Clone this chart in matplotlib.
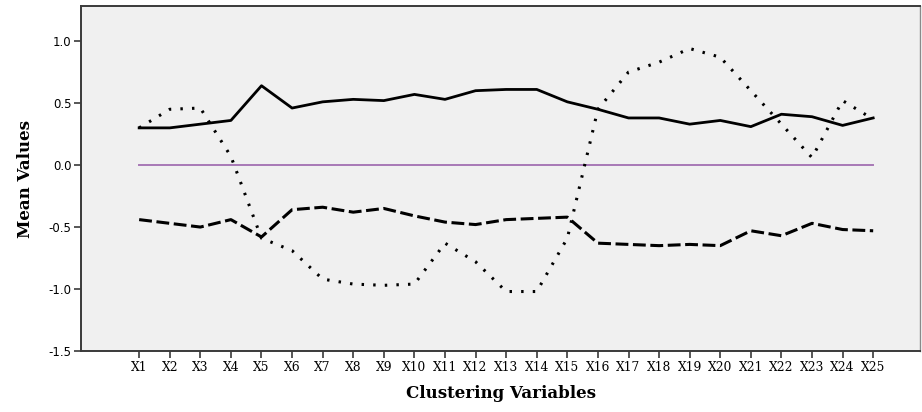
import numpy as np
import matplotlib.pyplot as plt

# cluster means for the 25 clustering variables
variables = ["X%d" % i for i in range(1, 26)]

cluster_solid = [0.30, 0.30, 0.33, 0.36, 0.64, 0.46, 0.51, 0.53, 0.52, 0.57,
                 0.53, 0.60, 0.61, 0.61, 0.51, 0.45, 0.38, 0.38, 0.33, 0.36,
                 0.31, 0.41, 0.39, 0.32, 0.38]
cluster_dashed = [-0.44, -0.47, -0.50, -0.44, -0.58, -0.36, -0.34, -0.38, -0.35, -0.41,
                  -0.46, -0.48, -0.44, -0.43, -0.42, -0.63, -0.64, -0.65, -0.64, -0.65,
                  -0.53, -0.57, -0.47, -0.52, -0.53]
cluster_dotted = [0.30, 0.45, 0.46, 0.07, -0.59, -0.69, -0.92, -0.96, -0.97, -0.96,
                  -0.63, -0.78, -1.02, -1.02, -0.59, 0.45, 0.75, 0.83, 0.94, 0.87,
                  0.60, 0.33, 0.06, 0.52, 0.37]

ytick_vals = [-1.5, -1.0, -0.5, 0.0, 0.5, 1.0]

fig = plt.figure(figsize=(9.22, 4.12), dpi=100)
ax = fig.add_axes([0.0879, 0.148, 0.9099, 0.8374])
ax.set_facecolor("#f0f0f0")

x = np.arange(len(variables))
x_lo, x_hi = -1.9, 25.53
ax.axhline(0.0, xmin=(x[0] - x_lo) / (x_hi - x_lo), xmax=(x[-1] - x_lo) / (x_hi - x_lo),
           color="#a878b6", lw=1.4, zorder=1)

ax.plot(x, cluster_solid, color="black", lw=2.0, ls="-", zorder=3)
ax.plot(x, cluster_dashed, color="black", lw=2.2, ls=(0, (4.2, 1.5)), zorder=3)
ax.plot(x, cluster_dotted, color="black", lw=2.2, ls=(0, (0.8, 3.0)), zorder=3)

ax.set_xlim(x_lo, x_hi)
ax.set_ylim(-1.5, 1.283)

ax.set_xticks(x)
ax.set_xticklabels(variables, fontfamily="DejaVu Serif", fontsize=8.8)
ax.set_yticks(ytick_vals)
ax.set_yticklabels(["%.1f" % v for v in ytick_vals], fontfamily="DejaVu Sans", fontsize=8.5)

for side in ["left", "bottom", "top"]:
    ax.spines[side].set_color("#3a3a3a")
    ax.spines[side].set_linewidth(1.4)
ax.spines["right"].set_color("#8a8a8a")
ax.spines["right"].set_linewidth(1.0)
ax.tick_params(axis="both", direction="out", length=5, width=1.2, color="#3a3a3a", pad=2)

ax.set_ylabel("Mean Values", fontfamily="DejaVu Serif", fontweight="bold",
              fontsize=12, labelpad=10)
ax.set_xlabel("Clustering Variables", fontfamily="DejaVu Serif", fontweight="bold",
              fontsize=12, labelpad=8)

fig.savefig("out.png", dpi=100)
